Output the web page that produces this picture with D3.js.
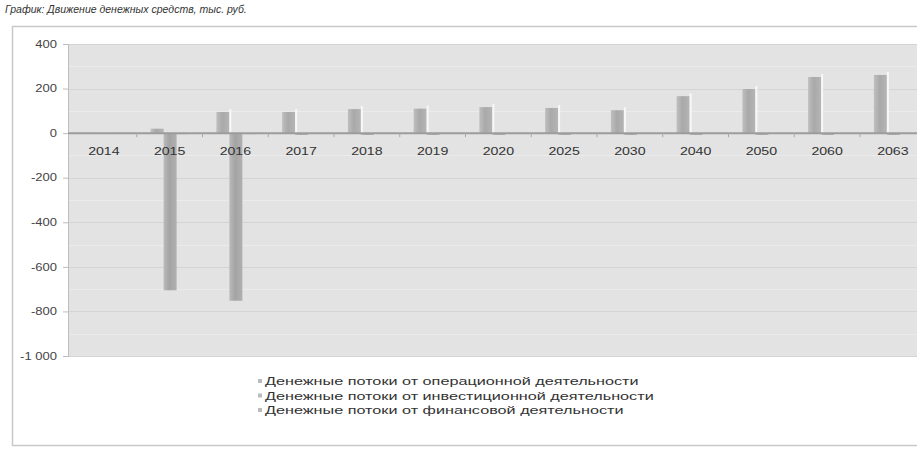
<!DOCTYPE html>
<html><head><meta charset="utf-8">
<script src="https://cdn.jsdelivr.net/npm/d3@7"></script>
<style>
html,body{margin:0;padding:0;background:#fff;}
svg{display:block;font-family:"Liberation Sans",Arial,sans-serif;}
</style></head>
<body>
<svg id="c" width="917" height="449"></svg>
<script>
const title = "График: Движение денежных средств, тыс. руб.";
const categories = ["2014","2015","2016","2017","2018","2019","2020","2025","2030","2040","2050","2060","2063"];
const seriesNames = [
  "Денежные потоки от операционной деятельности",
  "Денежные потоки от инвестиционной деятельности",
  "Денежные потоки от финансовой деятельности"
];
const operating = [0, 20, 95, 95, 108, 110, 117, 113, 103, 166, 198, 252, 261];
const investing = [-4, -705, -752, -8, -8, -8, -8, -8, -8, -8, -8, -8, -8];
const financing = [-3, -5, -5, -3, -3, -3, -3, -3, -3, -3, -3, -3, -3];
const yTicks = [400, 200, 0, -200, -400, -600, -800, -1000];

const svg = d3.select("#c");
const W = 917, H = 449;
const plot = {left: 68, top: 44, right: 940, bottom: 356};

function stretch(sel, f){
  sel.each(function(){
    const w = this.getComputedTextLength();
    this.setAttribute("textLength", (w*f).toFixed(1));
    this.setAttribute("lengthAdjust","spacingAndGlyphs");
  });
}

// outer frame
svg.append("rect").attr("x",12.5).attr("y",26.5).attr("width",W).attr("height",H-26-4)
  .attr("fill","#fff").attr("stroke","#c8c8c8").attr("stroke-width",1.5);

// title
const tt = svg.append("text").attr("x",5).attr("y",13).attr("font-size",10).attr("font-style","italic")
  .attr("fill","#333").text(title);
stretch(tt, 1.05);

const x = d3.scaleBand().domain(categories).range([71, 925.75]).paddingInner(0).paddingOuter(0);
const y = d3.scaleLinear().domain([-1000, 400]).range([plot.bottom, plot.top]);

// plot background
svg.append("rect").attr("x",plot.left).attr("y",plot.top).attr("width",plot.right-plot.left)
  .attr("height",plot.bottom-plot.top).attr("fill","#e3e3e3");

// gridlines
svg.append("g").selectAll("line").data(yTicks).join("line")
  .attr("x1",plot.left).attr("x2",plot.right)
  .attr("y1",d=>Math.round(y(d))+0.5).attr("y2",d=>Math.round(y(d))+0.5)
  .attr("stroke","#d4d4d4").attr("stroke-width",1);
svg.append("g").selectAll("line").data(yTicks.map(d=>d+100).filter(d=>d<400)).join("line")
  .attr("x1",plot.left).attr("x2",plot.right)
  .attr("y1",d=>Math.round(y(d))+0.5).attr("y2",d=>Math.round(y(d))+0.5)
  .attr("stroke","#ebebeb").attr("stroke-width",1);

// y axis
const yAxis = d3.axisLeft(y).tickValues(yTicks).tickSize(5)
  .tickFormat(d => d3.format(",")(d).replace(",", " ").replace("−","-"));
const gy = svg.append("g").attr("transform",`translate(${plot.left},0)`).call(yAxis);
gy.select(".domain").attr("stroke","#bdbdbd");
gy.selectAll(".tick line").attr("stroke","#bdbdbd");
gy.selectAll(".tick text").attr("font-size",10).attr("fill","#444")
  .attr("font-family","'Liberation Sans',Arial,sans-serif").attr("x",-11);
stretch(gy.selectAll(".tick text"), 1.3);

// bars
const barW = 13;
const offsets = [-19, -6, 7];
const colors = ["#a9a9a9", "#a4a4a4", "#b8b8b8"];
const data = [operating, investing, financing];
const defs = svg.append("defs");
colors.forEach((c,i)=>{
  const g = defs.append("linearGradient").attr("id","g"+i).attr("x1","0").attr("x2","1").attr("y1","0").attr("y2","0");
  g.append("stop").attr("offset","0").attr("stop-color",d3.color(c).brighter(0.35));
  g.append("stop").attr("offset","0.45").attr("stop-color",c);
  g.append("stop").attr("offset","1").attr("stop-color",d3.color(c).brighter(0.2));
});
data.forEach((vals,i)=>{
  svg.append("g").selectAll("rect").data(vals.map((v,j)=>({v,c:categories[j]}))).join("rect")
    .attr("x",d=>x(d.c)+x.bandwidth()/2+offsets[i])
    .attr("width",barW)
    .attr("y",d=>Math.min(y(d.v),y(0)))
    .attr("height",d=>Math.abs(y(d.v)-y(0)))
    .attr("fill",`url(#g${i})`);
});
// white highlight next to operating bars
svg.append("g").selectAll("rect").data(operating.map((v,j)=>({v,c:categories[j]})).filter(d=>d.v>50)).join("rect")
  .attr("x",d=>x(d.c)+x.bandwidth()/2+offsets[0]+barW)
  .attr("width",2)
  .attr("y",d=>y(d.v)-3)
  .attr("height",d=>y(0)-y(d.v)+3)
  .attr("fill","#f8f8f8");

// zero line
svg.append("line").attr("x1",plot.left).attr("x2",plot.right)
  .attr("y1",y(0)).attr("y2",y(0)).attr("stroke","#9c9c9c").attr("stroke-width",2);

// category labels
const xAxis = d3.axisBottom(x).tickSize(4);
const gx = svg.append("g").attr("transform",`translate(0,${y(0)})`).call(xAxis);
gx.select(".domain").remove();
gx.selectAll(".tick line").attr("stroke","#a8a8a8").attr("transform",`translate(${x.bandwidth()/2},0)`);
gx.selectAll(".tick text").attr("font-size",10.5).attr("fill","#333").attr("y",14)
  .attr("font-family","'Liberation Sans',Arial,sans-serif");
stretch(gx.selectAll(".tick text"), 1.35);

// legend
const lg = svg.append("g").attr("transform","translate(258,385)");
seriesNames.forEach((n,i)=>{
  const row = lg.append("g").attr("transform",`translate(0,${i*14.5})`);
  row.append("rect").attr("x",0).attr("y",-6).attr("width",4).attr("height",4).attr("fill","#bbbbbb");
  const t = row.append("text").attr("x",7).attr("y",0).attr("font-size",10).attr("fill","#333").text(n);
  stretch(t, 1.62);
});
</script>
</body></html>
